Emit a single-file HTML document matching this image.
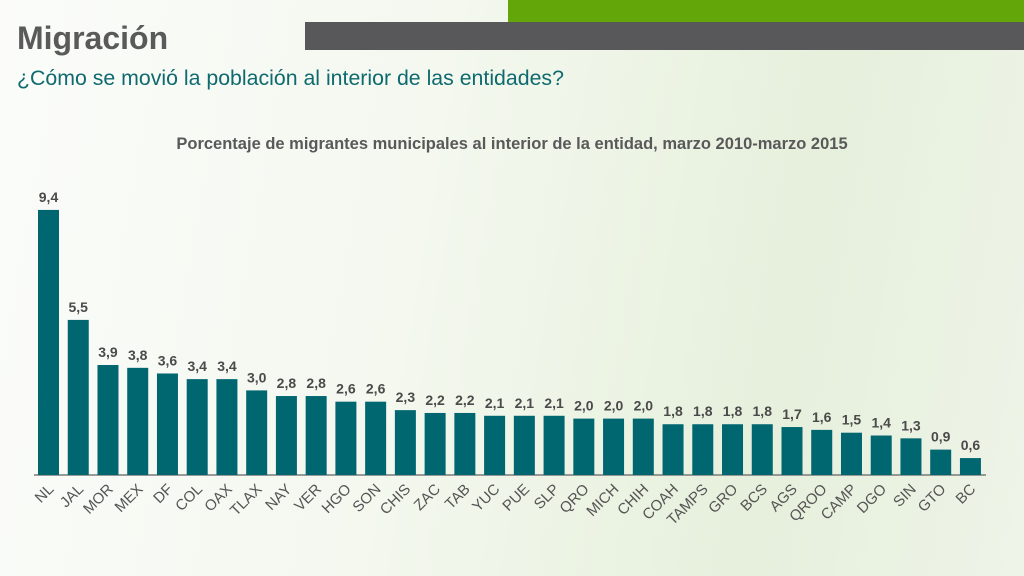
<!DOCTYPE html>
<html><head><meta charset="utf-8"><style>
body{margin:0;width:1024px;height:576px;overflow:hidden;font-family:"Liberation Sans",sans-serif;background:linear-gradient(100deg,#fbfcfa 0%,#f4f8ef 40%,#e6f0dc 75%,#eef4e8 100%);position:relative}
.g{position:absolute}
</style></head><body>
<div class="g" style="left:508px;top:0;width:516px;height:22px;background:#62a60a"></div>
<div class="g" style="left:305px;top:22px;width:719px;height:28px;background:#58585a"></div>
<div class="g" style="left:17px;top:20px;font-size:32px;font-weight:bold;color:#5a5a5a">Migración</div>
<div class="g" style="left:17px;top:66px;font-size:21.3px;color:#0e6a6e">¿Cómo se movió la población al interior de las entidades?</div>
<svg class="g" style="left:0;top:0" width="1024" height="576">
<text x="512" y="149" text-anchor="middle" font-size="16.5" font-weight="bold" fill="#595959">Porcentaje de migrantes municipales al interior de la entidad, marzo 2010-marzo 2015</text>
<line x1="34" y1="475" x2="986" y2="475" stroke="#7a7a7a" stroke-width="1.5"/>
<g id="bars"></g>
</svg>
<script>
const categories=["NL","JAL","MOR","MEX","DF","COL","OAX","TLAX","NAY","VER","HGO","SON","CHIS","ZAC","TAB","YUC","PUE","SLP","QRO","MICH","CHIH","COAH","TAMPS","GRO","BCS","AGS","QROO","CAMP","DGO","SIN","GTO","BC"];
const values=[9.4,5.5,3.9,3.8,3.6,3.4,3.4,3.0,2.8,2.8,2.6,2.6,2.3,2.2,2.2,2.1,2.1,2.1,2.0,2.0,2.0,1.8,1.8,1.8,1.8,1.7,1.6,1.5,1.4,1.3,0.9,0.6];
const ns="http://www.w3.org/2000/svg";
const g=document.getElementById("bars");
const x0=38,pitch=29.74,bw=21,base=475,k=28.2;
const xs=i=>x0+i*pitch;
const ys=v=>base-v*k;
categories.forEach((c,i)=>{
  const v=values[i];
  const r=document.createElementNS(ns,"rect");
  r.setAttribute("x",xs(i));r.setAttribute("y",ys(v));r.setAttribute("width",bw);r.setAttribute("height",base-ys(v));r.setAttribute("fill","#006670");
  
  
  g.appendChild(r);
  const t=document.createElementNS(ns,"text");
  t.setAttribute("x",xs(i)+bw/2);t.setAttribute("y",ys(v)-8);t.setAttribute("text-anchor","middle");t.setAttribute("font-size","14");t.setAttribute("font-weight","bold");t.setAttribute("fill","#4a4a4a");
  t.textContent=v.toFixed(1).replace(".",",");
  
  
  g.appendChild(t);
  const l=document.createElementNS(ns,"text");
  const cx=xs(i)+bw/2+6,cy=490;
  l.setAttribute("x",cx);l.setAttribute("y",cy);l.setAttribute("text-anchor","end");l.setAttribute("font-size","15");l.setAttribute("fill","#555");
  l.setAttribute("transform","rotate(-45 "+cx+" "+cy+")");
  l.textContent=c;
  
  
  g.appendChild(l);
});
</script>
</body></html>
